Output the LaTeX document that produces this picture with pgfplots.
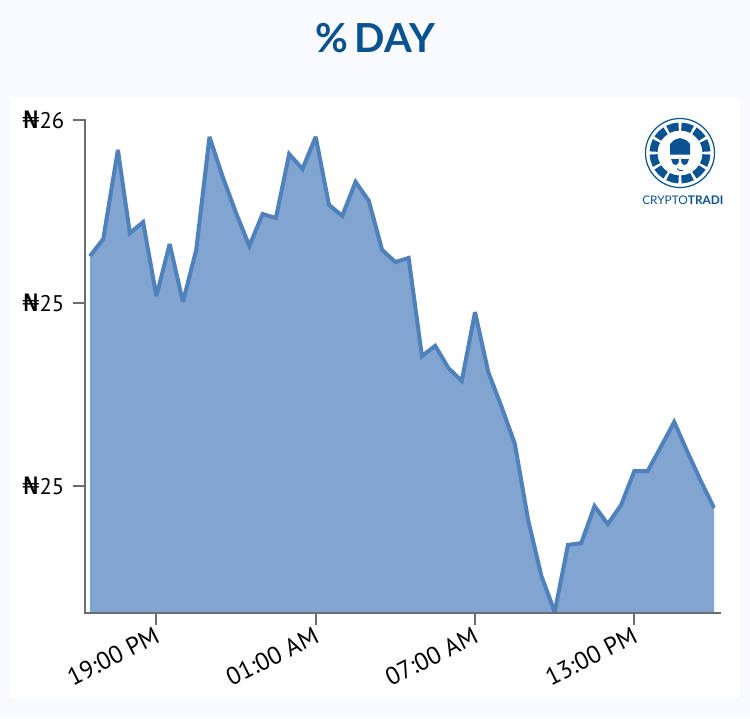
\documentclass[border=0pt]{standalone}
\usepackage{pgfplots}
\usepackage{pgfplotstable}
\usepackage{fontspec}
\pgfplotsset{compat=1.18}
\setmainfont{PT Sans}
\newfontfamily\titlefont{Lato}
\newfontfamily\nairafont{DejaVu Sans}
\newcommand{\naira}{{\nairafont\fontsize{18}{18}\selectfont\scalebox{1.12}[1]{₦}}}
\definecolor{pagebg}{HTML}{F8FAFE}
\definecolor{brand}{HTML}{0B5290}
\definecolor{areafill}{HTML}{82A4D0}
\definecolor{arealine}{HTML}{4F81BD}
\definecolor{axisgrey}{HTML}{6A6D72}
\pgfplotstableread{
i v
0 25.628
1 25.675
2.1 25.918
3 25.691
4 25.721
5 25.519
6 25.661
7 25.503
8 25.645
9 25.954
10 25.844
11 25.746
12 25.656
13 25.743
14 25.732
15 25.907
16 25.866
17 25.954
18 25.768
19 25.738
20 25.831
21 25.779
22 25.645
23 25.612
24 25.623
25 25.355
26 25.383
27 25.322
28 25.287
29 25.475
30 25.311
31 25.216
32 25.115
33 24.907
34 24.754
35 24.656
36 24.839
37 24.844
38 24.945
39 24.896
40 24.948
41 25.041
42 25.041
43 25.107
44 25.175
45 25.093
46 25.014
47 24.940
}\pricetable
\begin{document}
\begin{tikzpicture}[x=0.75pt,y=-0.75pt]
\path[use as bounding box,fill=pagebg] (0,0) rectangle (750,718);
\fill[white] (10,98) rectangle (740,698);
\node[font=\titlefont\bfseries\fontsize{30}{30}\selectfont,text=brand,anchor=center] at (375,38) {\%\,DAY};
\begin{axis}[
  at={(85*0.75pt,-613*0.75pt)},anchor=south west,
  scale only axis,width=476.25pt,height=369.75pt,
  xmin=-0.377,xmax=47.45,ymin=24.653,ymax=26,
  axis x line=bottom,axis y line=left,
  x axis line style={draw=axisgrey,line width=1.5pt,-},
  y axis line style={draw=axisgrey,line width=1.5pt,-},
  xtick={5,17,29,41},
  xticklabels={19:00 PM,01:00 AM,07:00 AM,13:00 PM},
  ytick={25,25.5,26},
  yticklabels={\naira25,\naira25,\naira26},
  xtick style={draw=axisgrey,line width=1.5pt},
  ytick style={draw=axisgrey,line width=1.5pt},
  tick align=outside,
  major tick length=9pt,
  xticklabel style={rotate=27,anchor=north east,font=\fontsize{18.5}{18.5}\selectfont,text=black,yshift=4pt,xshift=1pt},
  yticklabel style={font=\fontsize{17}{17}\selectfont,text=black,xshift=-3pt},
  clip=false,
]
\addplot[fill=areafill,draw=none] table[x=i,y=v]{\pricetable} \closedcycle;
\addplot[draw=arealine,line width=3pt,miter limit=3] table[x=i,y=v]{\pricetable};
% heavier axis lines and ticks, as in the reference
\draw[axisgrey,line width=1.5pt,line cap=rect] (rel axis cs:0,1) -- (rel axis cs:0,0) -- (rel axis cs:1,0);
\foreach \t in {5,17,29,41}{
  \edef\temp{\noexpand\draw[axisgrey,line width=1.5pt] (axis cs:\t,24.653) -- ([yshift=-7pt]axis cs:\t,24.653);}\temp
}
\foreach \t in {25,25.5,26}{
  \edef\temp{\noexpand\draw[axisgrey,line width=1.5pt] (axis cs:-0.377,\t) -- ([xshift=-9pt]axis cs:-0.377,\t);}\temp
}
\end{axis}
% logo
\draw[brand,line width=0.9pt] (680,153) circle[radius=34.5*0.75pt];
\foreach \a in {0,30,...,330}{
  \fill[brand] ({680+22.5*cos(\a+3)},{153+22.5*sin(\a+3)})
    -- ({680+22.5*cos(\a+15)},{153+22.5*sin(\a+15)})
    -- ({680+22.5*cos(\a+27)},{153+22.5*sin(\a+27)})
    -- ({680+30.5*cos(\a+27)},{153+30.5*sin(\a+27)})
    -- ({680+30.5*cos(\a+15)},{153+30.5*sin(\a+15)})
    -- ({680+30.5*cos(\a+3)},{153+30.5*sin(\a+3)}) -- cycle;
}
\fill[brand] (670,154.5) -- (670,144) -- (674,140) -- (680,138) -- (686,140) -- (690,144) -- (690,154.5) -- cycle;
\fill[brand] (671,159) -- (679,159) -- (678.5,163) -- (676,165) -- (673,164) -- cycle;
\fill[brand] (681,159) -- (689,159) -- (687,164) -- (684,165) -- (681.5,163) -- cycle;
\draw[brand,line width=0.6pt] (677,168.5) .. controls (679,171) and (681,171) .. (683,170.5);
\node[anchor=base west,inner sep=0pt,text=brand,font=\titlefont\fontsize{8.9}{8.9}\selectfont] at (642,204) {CRYPTO\textbf{TRADI}};
\end{tikzpicture}
\end{document}
